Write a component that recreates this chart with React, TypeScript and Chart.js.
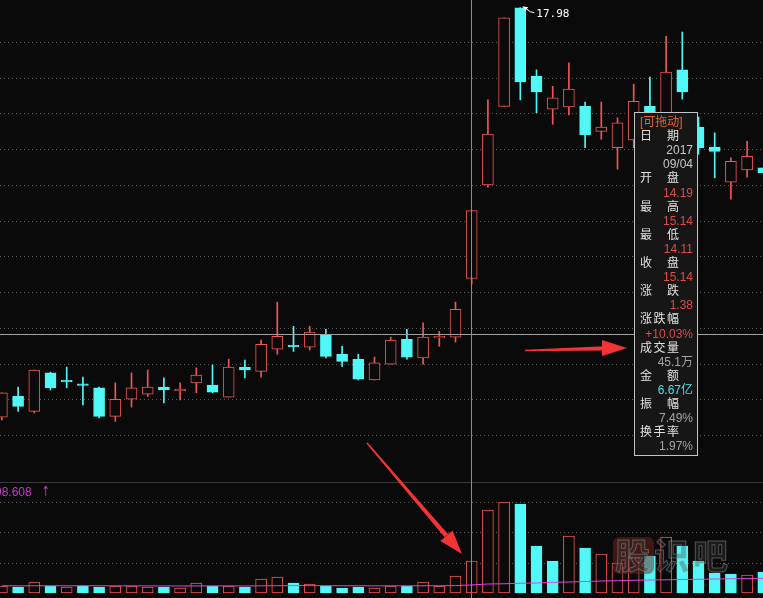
import React, { useEffect, useRef } from "react";
import { Chart, registerables } from "chart.js";
Chart.register(...registerables);

const W = 763;
const H = 598;
const BG = "#0a0a0a";
const RED = "#f05656";
const CYAN = "#50f8f8";
const MAGENTA = "#e040e0";

// ---- data (prices in 元, volume in 万手) ----
const openPrices = [12.25, 12.54, 12.33, 12.87, 12.76, 12.71, 12.66, 12.26, 12.5, 12.57, 12.67, 12.63, 12.73, 12.7, 12.53, 12.95, 12.89, 13.2, 13.25, 13.23, 13.4, 13.13, 13.06, 12.77, 12.99, 13.34, 13.08, 13.37, 13.37, 14.19, 15.5, 16.6, 17.98, 17.02, 16.56, 16.59, 16.6, 16.25, 16.02, 16.13, 16.6, 16.13, 17.11, 16.31, 16.03, 15.54, 15.71, 15.74];
const highPrices = [12.59, 12.67, 12.91, 12.88, 12.95, 12.81, 12.67, 12.73, 12.87, 12.91, 12.8, 12.73, 12.94, 12.98, 13.06, 13.05, 13.33, 13.86, 13.52, 13.52, 13.48, 13.24, 13.13, 13.09, 13.37, 13.48, 13.57, 13.45, 13.86, 15.14, 16.69, 17.84, 17.98, 17.11, 16.88, 17.21, 16.66, 16.66, 16.44, 16.91, 17.01, 17.58, 17.64, 16.45, 16.23, 15.88, 16.11, 15.74];
const lowPrices = [12.21, 12.33, 12.31, 12.63, 12.66, 12.42, 12.24, 12.19, 12.39, 12.54, 12.45, 12.49, 12.59, 12.59, 12.53, 12.8, 12.81, 13.13, 13.17, 13.19, 13.08, 12.96, 12.77, 12.77, 12.99, 13.06, 12.99, 13.24, 13.3, 14.11, 15.47, 16.6, 16.69, 16.51, 16.35, 16.48, 16.02, 16.14, 15.72, 16.02, 16.2, 16.06, 16.7, 15.93, 15.6, 15.3, 15.61, 15.67];
const closePrices = [12.59, 12.4, 12.91, 12.66, 12.75, 12.7, 12.26, 12.5, 12.66, 12.67, 12.63, 12.63, 12.84, 12.6, 12.95, 12.91, 13.27, 13.38, 13.24, 13.44, 13.1, 13.03, 12.78, 13.01, 13.33, 13.09, 13.37, 13.37, 13.76, 15.14, 16.21, 17.84, 16.94, 16.8, 16.72, 16.84, 16.2, 16.31, 16.37, 16.67, 16.34, 17.08, 16.8, 16.02, 15.97, 15.83, 15.9, 15.67];
const volumes = [9.9, 8.5, 15.5, 9.9, 8.5, 9.9, 8.5, 9.9, 9.9, 8.5, 8.5, 7.0, 14.1, 9.9, 9.9, 8.5, 19.7, 22.5, 14.1, 12.7, 9.9, 7.0, 8.5, 7.0, 9.9, 9.9, 15.5, 9.9, 24.0, 45.1, 117.0, 128.2, 125.4, 66.2, 45.1, 80.3, 63.4, 55.0, 42.3, 50.7, 52.1, 78.9, 66.2, 45.1, 28.2, 26.8, 25.4, 29.6];
const volumeMA = [10.2, 10.1, 10.2, 10.2, 10.1, 10.3, 10.2, 10.1, 10.1, 10.0, 10.0, 9.9, 10.0, 10.0, 10.0, 9.9, 10.1, 10.3, 10.4, 10.4, 10.3, 10.2, 10.2, 10.1, 10.1, 10.1, 10.2, 10.2, 10.5, 11.3, 12.7, 13.0, 13.7, 14.1, 15.0, 15.5, 16.2, 16.9, 17.3, 17.9, 18.3, 18.6, 19.0, 19.3, 19.7, 20.0, 20.4, 20.7];
const priceGridValues = [12.0, 12.5, 13.0, 13.5, 14.0, 14.5, 15.0, 15.5, 16.0, 16.5, 17.0, 17.5];
const volumeGridFractions = [1 / 3, 2 / 3, 1];
const crossIndex = 30;
const crossPrice = 13.41;
const volumeLabel = "98.608";

const tipLabels = ["[可拖动]", "日期", "", "", "开盘", "", "最高", "", "最低", "", "收盘", "", "涨跌", "", "涨跌幅", "", "成交量", "", "金额", "", "振幅", "", "换手率", ""];
const tipValues = ["", "", "2017", "09/04", "", "14.19", "", "15.14", "", "14.11", "", "15.14", "", "1.38", "", "+10.03%", "", "45.1万", "", "6.67亿", "", "7.49%", "", "1.97%"];
const tipValueColors = ["", "", "#c8c8c8", "#c8c8c8", "", "#dc4c4c", "", "#dc4c4c", "", "#dc4c4c", "", "#dc4c4c", "", "#dc4c4c", "", "#dc4c4c", "", "#a4a4a4", "", "#48e4e4", "", "#a4a4a4", "", "#a4a4a4"];

export default function App() {
  const ref = useRef<HTMLCanvasElement | null>(null);

  useEffect(() => {
    if (!ref.current) return;
    const idx = openPrices.map((_, i) => i + 1);
    const isUp = (i: number) => closePrices[i] >= openPrices[i];
    const volUp = (i: number) => (i === 0 ? true : closePrices[i] >= closePrices[i - 1]);
    const minBody = 0.011;

    const bodies = idx.map((x, i) => {
      let a = Math.min(openPrices[i], closePrices[i]);
      let b = Math.max(openPrices[i], closePrices[i]);
      if (b - a < 0.02) {
        const m = (a + b) / 2;
        a = m - minBody;
        b = m + minBody;
      }
      return { x, y: [a, b] };
    });
    const wicks = idx.map((x, i) => ({ x, y: [lowPrices[i], highPrices[i]] }));
    const vols = idx.map((x, i) => ({ x, y: volumes[i] }));
    const ma = idx.map((x, i) => ({ x, y: volumeMA[i] }));

    const overlay = {
      id: "overlay",
      beforeDatasetsDraw(chart: any) {
        const ctx = chart.ctx;
        const ys = chart.scales.y;
        const yv = chart.scales.yv;
        ctx.save();
        ctx.lineWidth = 1;
        ctx.strokeStyle = "#5c5c5c";
        ctx.setLineDash([1, 3]);
        for (const v of priceGridValues) {
          const py = Math.round(ys.getPixelForValue(v)) + 0.5;
          ctx.beginPath();
          ctx.moveTo(0, py);
          ctx.lineTo(W, py);
          ctx.stroke();
        }
        const vmax = Math.max(...volumes);
        for (const f of volumeGridFractions) {
          const py = Math.round(yv.getPixelForValue(vmax * f)) + 0.5;
          ctx.beginPath();
          ctx.moveTo(0, py);
          ctx.lineTo(W, py);
          ctx.stroke();
        }
        ctx.setLineDash([]);
        ctx.strokeStyle = "#3a3a3a";
        ctx.beginPath();
        ctx.moveTo(0, 482.5);
        ctx.lineTo(W, 482.5);
        ctx.stroke();
        ctx.restore();
      },
      afterDatasetsDraw(chart: any) {
        const ctx = chart.ctx;
        const xs = chart.scales.x;
        const ys = chart.scales.y;
        ctx.save();
        const cx = Math.round(xs.getPixelForValue(crossIndex)) - 0.5;
        ctx.strokeStyle = "#8c8c8c";
        ctx.lineWidth = 1;
        ctx.beginPath();
        ctx.moveTo(cx, 0);
        ctx.lineTo(cx, H);
        ctx.stroke();
        const cy = Math.round(ys.getPixelForValue(crossPrice)) + 0.5;
        ctx.strokeStyle = "#a0a0a0";
        ctx.beginPath();
        ctx.moveTo(0, cy);
        ctx.lineTo(W, cy);
        ctx.stroke();
        let hi = 0;
        highPrices.forEach((v, i) => {
          if (v > highPrices[hi]) hi = i;
        });
        const hx = xs.getPixelForValue(hi + 1);
        const hy = ys.getPixelForValue(highPrices[hi]);
        ctx.fillStyle = "#ffffff";
        ctx.strokeStyle = "#ffffff";
        ctx.beginPath();
        ctx.moveTo(hx + 2, hy - 1.5);
        ctx.lineTo(hx + 8, hy - 0.5);
        ctx.lineTo(hx + 5, hy + 3);
        ctx.closePath();
        ctx.fill();
        ctx.beginPath();
        ctx.moveTo(hx + 6, hy + 1);
        ctx.lineTo(hx + 10, hy + 4);
        ctx.lineTo(hx + 14, hy + 5);
        ctx.stroke();
        ctx.font = "11px 'DejaVu Sans Mono'";
        ctx.textBaseline = "middle";
        ctx.textAlign = "left";
        ctx.fillText(highPrices[hi].toFixed(2), hx + 16, hy + 6);
        ctx.restore();
      },
    };

    const chart = new Chart(ref.current, {
      type: "bar",
      data: {
        datasets: [
          {
            type: "line",
            data: ma,
            yAxisID: "yv",
            borderColor: MAGENTA,
            borderWidth: 1,
            pointRadius: 0,
            order: 0,
          } as any,
          {
            data: bodies,
            yAxisID: "y",
            backgroundColor: idx.map((_, i) => (isUp(i) ? BG : CYAN)),
            borderColor: idx.map((_, i) => (isUp(i) ? RED : CYAN)),
            borderWidth: 1,
            borderSkipped: false,
            barThickness: 11,
            grouped: false,
            order: 1,
          } as any,
          {
            data: wicks,
            yAxisID: "y",
            backgroundColor: idx.map((_, i) => (isUp(i) ? RED : CYAN)),
            borderWidth: 0,
            barThickness: 1,
            grouped: false,
            order: 2,
          } as any,
          {
            data: vols,
            yAxisID: "yv",
            backgroundColor: idx.map((_, i) => (volUp(i) ? BG : CYAN)),
            borderColor: idx.map((_, i) => (volUp(i) ? RED : CYAN)),
            borderWidth: 1,
            borderSkipped: false,
            barThickness: 11,
            grouped: false,
            order: 3,
          } as any,
        ],
      },
      options: {
        animation: false,
        responsive: false,
        maintainAspectRatio: false,
        layout: { padding: 0 },
        plugins: { legend: { display: false }, tooltip: { enabled: false } },
        scales: {
          x: { type: "linear", display: false, offset: false, bounds: "ticks", min: 0.8827, max: 0.8827 + W / 16.2 },
          y: { type: "linear", display: false, min: (1292.4 - H) / 71.45, max: 1292.4 / 71.45 },
          yv: { type: "linear", display: false, min: -5 * 1.409, max: 593 * 1.409 },
        },
      } as any,
      plugins: [overlay],
    });
    return () => chart.destroy();
  }, []);

  const rowTop = (k: number) => 2 + 14.1 * k;

  return (
    <div
      style={{
        position: "fixed",
        left: 0,
        top: 0,
        width: W,
        height: H,
        background: BG,
        overflow: "hidden",
        fontFamily: "'Liberation Sans', 'Noto Sans CJK SC', sans-serif",
      }}
    >
      <canvas ref={ref} width={W} height={H} style={{ position: "absolute", left: 0, top: 0, display: "block" }} />

      {/* volume label */}
      <div style={{ position: "absolute", left: -5, top: 485, fontSize: 12, lineHeight: "15px", color: "#c23cc2", whiteSpace: "nowrap" }}>
        {volumeLabel}
      </div>
      <div style={{ position: "absolute", left: 40, top: 483, fontSize: 14, lineHeight: "16px", color: "#c23cc2", fontFamily: "'DejaVu Sans'", transform: "scaleX(0.7)" }}>
        ↑
      </div>

      {/* watermark */}
      <div style={{ position: "absolute", left: 613, top: 537, width: 41, height: 37, borderRadius: 6, background: "rgba(115,38,32,0.5)" }} />
      <div
        style={{
          position: "absolute",
          left: 615,
          top: 532,
          fontSize: 35,
          lineHeight: "44px",
          fontWeight: 700,
          fontFamily: "'Noto Sans CJK SC'",
          letterSpacing: 4,
          color: "rgba(60,60,60,0.35)",
          WebkitTextStroke: "1px rgba(150,150,150,0.5)",
          whiteSpace: "nowrap",
        }}
      >
        股识吧
      </div>

      {/* arrows */}
      <svg width={W} height={H} style={{ position: "absolute", left: 0, top: 0 }}>
        <polygon points="525,349.8 604,346.2 604,350.6 525,351.2" fill="#f23434" />
        <polygon points="602,340 627,348 602,356" fill="#f23434" />
        <polygon points="366.4,443.5 367.6,442.5 448.2,534.3 444.6,537.3" fill="#f23434" />
        <polygon points="440.3,541 462,554 452.5,530.6" fill="#f23434" />
      </svg>

      {/* tooltip */}
      <div
        style={{
          position: "absolute",
          left: 634,
          top: 112,
          width: 64,
          height: 344,
          boxSizing: "border-box",
          border: "1px solid #c4c4c4",
          background: "#161616",
          fontSize: 12,
        }}
      >
        {tipLabels.map((lab, k) =>
          lab ? (
            <div
              key={"l" + k}
              style={{
                position: "absolute",
                left: 5,
                top: rowTop(k),
                height: 14,
                lineHeight: "14px",
                width: k === 0 ? 52 : 39,
                display: "flex",
                justifyContent: k === 0 ? "flex-start" : "space-between",
                color: k === 0 ? "#e8642c" : "#e2e2e2",
                whiteSpace: "nowrap",
              }}
            >
              {k === 0 ? lab : lab.split("").map((ch, j) => <span key={j}>{ch}</span>)}
            </div>
          ) : null
        )}
        {tipValues.map((val, k) =>
          val ? (
            <div
              key={"v" + k}
              style={{
                position: "absolute",
                right: 4,
                top: rowTop(k),
                height: 14,
                lineHeight: "14px",
                textAlign: "right",
                color: tipValueColors[k],
                whiteSpace: "nowrap",
              }}
            >
              {val}
            </div>
          ) : null
        )}
      </div>
    </div>
  );
}
